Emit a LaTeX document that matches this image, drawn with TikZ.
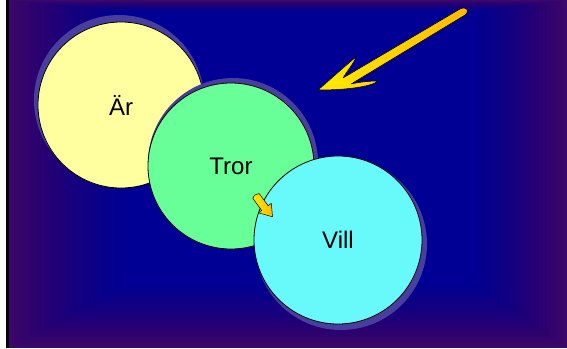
\documentclass[tikz,border=0pt]{standalone}
\usepackage{fontspec}
\setmainfont{Liberation Sans}
\usetikzlibrary{shapes.geometric}
\definecolor{bgpurple}{RGB}{62,8,104}
\definecolor{bgblue}{RGB}{0,0,148}
\definecolor{halo}{RGB}{72,62,158}
\definecolor{arfill}{RGB}{255,255,160}
\definecolor{trorfill}{RGB}{104,255,152}
\definecolor{villfill}{RGB}{104,250,250}
\definecolor{arrowyellow}{RGB}{255,235,0}
\definecolor{arroworange}{RGB}{255,185,0}
\tikzset{
  bubble/.style={circle, draw=black, line width=0.8pt, inner sep=0pt,
    minimum size=#1, font=\fontsize{24}{28}\selectfont, text=black},
  halocircle/.style={fill=halo, draw=none},
  goldarrow/.style={draw=black, line width=0.5pt, line join=round,
    left color=arrowyellow, right color=arroworange}
}
\begin{document}
\begin{tikzpicture}[x=1pt,y=-1pt]
\useasboundingbox (0,0) rectangle (567,348);
% page margin and black bar
\fill[white] (0,0) rectangle (9,348);
\fill[black] (5.5,0) rectangle (8.5,348);
% background with darker purple edges (linear blend towards blue)
\fill[bgpurple] (8.5,0) rectangle (567,348);
\foreach \i in {1,...,24} {
  \pgfmathsetmacro{\op}{1/(25-\i)}
  \fill[bgblue, opacity=\op]
    ({8.5+5*(\i-1)},{0.5*(\i-1)}) rectangle ({567-4*(\i-1)},{348-2.8*(\i-1)});
}
% halos
\fill[halocircle] (119,100) circle (85);
\node[bubble=166pt, fill=arfill] (ar) at (121,105) {Är};
\fill[halocircle] (233,163) circle (85);
\node[bubble=166pt, fill=trorfill] (tror) at (231,166) {Tror};
\fill[halocircle] (341,244) circle (86);
\node[bubble=168pt, fill=villfill] (vill) at (338,240) {Vill};
% big arrow
\path[goldarrow]
  (318,90) .. controls (332,78) and (345,66) .. (356,57)
  .. controls (354,63) and (347,71) .. (343,78)
  -- (460,9) .. controls (467,6) and (470,11) .. (465,15)
  -- (351,84)
  .. controls (360,82) and (370,81) .. (378,81)
  .. controls (372,86) and (350,90) .. (318,90) -- cycle;
% small arrow
\path[goldarrow]
  (259.2,193.6) -- (268.1,205.7) -- (271.3,203.4) -- (272.5,216.8)
  -- (258.5,212.8) -- (261.7,210.5) -- (252.8,198.4)
  .. controls (254,195) and (256,194) .. (259.2,193.6) -- cycle;
\end{tikzpicture}
\end{document}
